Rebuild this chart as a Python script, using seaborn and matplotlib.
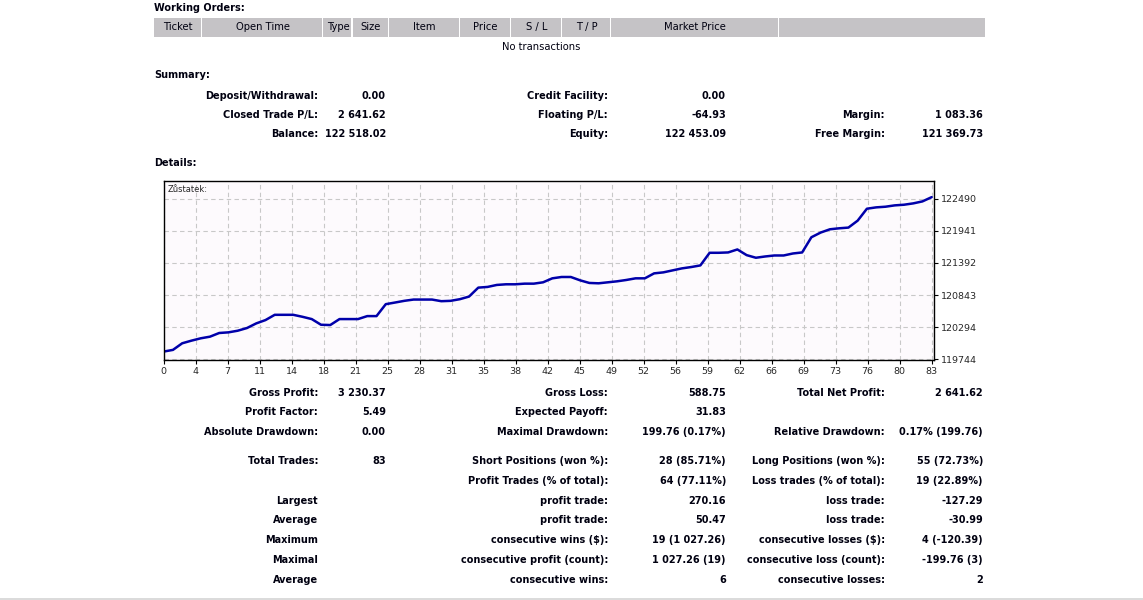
import matplotlib
matplotlib.use('Agg')
import matplotlib.pyplot as plt
import seaborn as sns
import numpy as np
import pandas as pd

W, H = 1143, 600

# balance curve (trade number -> balance)
trades = list(range(84))
balance = [
    119876.40, 119905, 120018, 120063, 120103, 120131, 120194, 120205, 120233, 120279,
    120358, 120415, 120505, 120505, 120505, 120471, 120432, 120335, 120330, 120432,
    120432, 120432, 120483, 120483, 120687, 120715, 120744, 120766, 120766, 120766,
    120738, 120744, 120772, 120817, 120970, 120982, 121016, 121027, 121027, 121038,
    121038, 121061, 121129, 121152, 121152, 121095, 121050, 121044, 121061, 121078,
    121101, 121129, 121129, 121214, 121231, 121265, 121299, 121322, 121350, 121566,
    121566, 121572, 121623, 121526, 121481, 121503, 121520, 121520, 121554, 121572,
    121832, 121912, 121968, 121985, 121997, 122116, 122320, 122343, 122354, 122377,
    122388, 122411, 122445, 122518.02,
]
x_labels = ['0', '4', '7', '11', '14', '18', '21', '25', '28', '31', '35', '38', '42',
            '45', '49', '52', '56', '59', '62', '66', '69', '73', '76', '80', '83']
y_ticks = [119744, 120294, 120843, 121392, 121941, 122490]

order_headers = ['Ticket', 'Open Time', 'Type', 'Size', 'Item', 'Price', 'S / L', 'T / P', 'Market Price', '']
order_edges = [154, 202, 323, 353, 389, 460, 511, 562, 611, 779, 986]

summary_rows = [
    ['Deposit/Withdrawal:', '0.00', 'Credit Facility:', '0.00', '', ''],
    ['Closed Trade P/L:', '2 641.62', 'Floating P/L:', '-64.93', 'Margin:', '1 083.36'],
    ['Balance:', '122 518.02', 'Equity:', '122 453.09', 'Free Margin:', '121 369.73'],
]
summary_y = [96, 115, 134]

detail_rows = [
    ['Gross Profit:', '3 230.37', 'Gross Loss:', '588.75', 'Total Net Profit:', '2 641.62'],
    ['Profit Factor:', '5.49', 'Expected Payoff:', '31.83', '', ''],
    ['Absolute Drawdown:', '0.00', 'Maximal Drawdown:', '199.76 (0.17%)', 'Relative Drawdown:', '0.17% (199.76)'],
    ['Total Trades:', '83', 'Short Positions (won %):', '28 (85.71%)', 'Long Positions (won %):', '55 (72.73%)'],
    ['', '', 'Profit Trades (% of total):', '64 (77.11%)', 'Loss trades (% of total):', '19 (22.89%)'],
    ['Largest', '', 'profit trade:', '270.16', 'loss trade:', '-127.29'],
    ['Average', '', 'profit trade:', '50.47', 'loss trade:', '-30.99'],
    ['Maximum', '', 'consecutive wins ($):', '19 (1 027.26)', 'consecutive losses ($):', '4 (-120.39)'],
    ['Maximal', '', 'consecutive profit (count):', '1 027.26 (19)', 'consecutive loss (count):', '-199.76 (3)'],
    ['Average', '', 'consecutive wins:', '6', 'consecutive losses:', '2'],
]
detail_y = [393, 412, 432, 461, 481, 501, 520, 540, 560, 580]

# right edges of the label / value columns
col_right = [318, 386, 608, 726, 885, 983]

sns.set_style('white')
plt.rcParams['font.family'] = ['DejaVu Sans']

FS = 7
fig = plt.figure(figsize=(W / 100, H / 100), dpi=100)
fig.patch.set_facecolor('white')


def px(x, y):
    return x / W, 1 - y / H


def put(x, y, s, ha='left', bold=True, size=FS):
    fx, fy = px(x, y)
    fig.text(fx, fy, s, ha=ha, va='center', fontsize=size,
             fontweight='bold' if bold else 'normal', color='#000010')


# Working orders header
put(154, 8, 'Working Orders:')
for i, name in enumerate(order_headers):
    x0, x1 = order_edges[i], order_edges[i + 1]
    fx, fy = px(x0, 36.5)
    fig.patches.append(plt.Rectangle((fx, fy), (x1 - x0 - 1.5) / W, 18.5 / H,
                                     transform=fig.transFigure, facecolor='#c5c3c6',
                                     edgecolor='none'))
    if name:
        put((x0 + x1) / 2, 27, name, ha='center', bold=False, size=7.2)
put(541, 47, 'No transactions', ha='center', bold=False, size=7.2)

# Summary
put(154, 75, 'Summary:')
for y, row in zip(summary_y, summary_rows):
    for x, s in zip(col_right, row):
        if s:
            put(x, y, s, ha='right')

put(154, 163, 'Details:')

# balance chart
ax_l, ax_r, ax_t, ax_b = 163.7, 934, 181, 360
ax = fig.add_axes([ax_l / W, 1 - ax_b / H, (ax_r - ax_l) / W, (ax_b - ax_t) / H])
ax.set_facecolor('#fdfafd')
df = pd.DataFrame({'trade': trades, 'balance': balance})
sns.lineplot(data=df, x='trade', y='balance', ax=ax, color='#0000aa', linewidth=1.8)
ax.set_xlim(0, 83.25)
ax.set_ylim(119732, 122794)
ax.set_xticks(np.linspace(0, 83, len(x_labels)))
ax.set_xticklabels(x_labels)
ax.set_yticks(y_ticks)
ax.set_yticklabels([str(v) for v in y_ticks])
ax.yaxis.tick_right()
ax.tick_params(axis='both', labelsize=6.8, length=3, width=0.8, color='black', pad=2)
ax.tick_params(axis='x', bottom=True)
ax.tick_params(axis='y', right=True)
ax.grid(True, color='#c8c8c8', linestyle=(0, (4, 3)), linewidth=0.8)
ax.set_xlabel('')
ax.set_ylabel('')
for sp in ax.spines.values():
    sp.set_color('black')
    sp.set_linewidth(1)
ax.text(0.005, 0.955, 'Zůstatek:', transform=ax.transAxes, fontsize=6, va='center', ha='left')

# Details table
for y, row in zip(detail_y, detail_rows):
    for x, s in zip(col_right, row):
        if s:
            put(x, y, s, ha='right')

# bottom rule
fig.add_artist(plt.Line2D([0, 1], [1 - 598.5 / H] * 2, transform=fig.transFigure,
                          color='#d4d4d4', linewidth=1.2))

fig.savefig('out.png', dpi=100, facecolor='white')
